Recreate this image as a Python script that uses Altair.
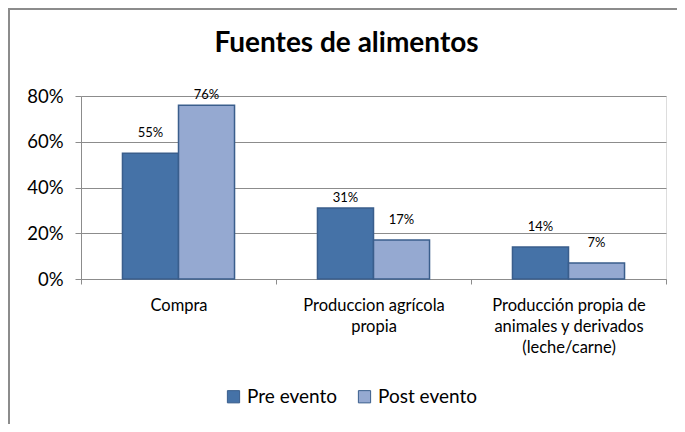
import altair as alt
import pandas as pd

categories = ["Compra", "Produccion agrícola propia",
              "Producción propia de animales y derivados (leche/carne)"]
category_lines = [["Compra"], ["Produccion agrícola", "propia"],
                  ["Producción propia de", "animales y derivados", "(leche/carne)"]]
series = ["Pre evento", "Post evento"]
pre_values = [0.55, 0.31, 0.14]
post_values = [0.76, 0.17, 0.07]
y_ticks = [0, 0.2, 0.4, 0.6, 0.8]

rows = []
for c, a, b in zip(categories, pre_values, post_values):
    rows.append({"categoria": c, "serie": series[0], "valor": a})
    rows.append({"categoria": c, "serie": series[1], "valor": b})
df = pd.DataFrame(rows)

FONT = "Lato"
PRE = "#4572A7"
POST = "#95A9D1"
EDGE = "#3A5E8C"
GREY = "#8C8C8C"

label_expr = " : ".join(
    f"datum.value == '{c}' ? {lines!r}" for c, lines in zip(categories, category_lines)
) + " : datum.value"

x = alt.X("categoria:N", sort=categories, title=None,
          scale=alt.Scale(paddingInner=0, paddingOuter=0),
          axis=alt.Axis(labelExpr=label_expr, labelAngle=0, labelFontSize=16.5,
                        labelLineHeight=21, labelBaseline="top", labelPadding=13,
                        tickBand="extent", tickSize=5, tickColor=GREY,
                        domainColor=GREY, labelColor="black", labelFont=FONT,
                        grid=False))
xo = alt.XOffset("serie:N", sort=series,
                 scale=alt.Scale(paddingOuter=0.74, paddingInner=0))
y = alt.Y("valor:Q", title=None,
          scale=alt.Scale(domain=[0, 0.8]),
          axis=alt.Axis(values=y_ticks, format=".0%", labelFontSize=18.5,
                        labelFont=FONT, labelColor="black", labelPadding=12,
                        tickSize=6, tickColor=GREY, domainColor=GREY,
                        gridColor=GREY, gridWidth=1))

bars = alt.Chart(df).mark_bar(stroke=EDGE, strokeWidth=1.5).encode(
    x=x, xOffset=xo, y=y,
    color=alt.Color("serie:N", sort=series,
                    scale=alt.Scale(domain=series, range=[PRE, POST]),
                    legend=alt.Legend(title=None, orient="none", direction="horizontal",
                                      legendX=143, legendY=291, symbolType="square",
                                      symbolSize=150, symbolStrokeColor=EDGE,
                                      symbolStrokeWidth=1, labelFontSize=19,
                                      labelFont=FONT, labelColor="black",
                                      columnPadding=17, labelOffset=4)),
)

tight = [(categories[0], series[1]), (categories[1], series[0])]
tight_expr = " || ".join(
    f"(datum.categoria == '{c}' && datum.serie == '{s}')" for c, s in tight)

labels_normal = alt.Chart(df).transform_filter(f"!({tight_expr})").mark_text(
    baseline="middle", dy=-20, fontSize=13, font=FONT, color="black"
).encode(x=x, xOffset=xo, y=y, text=alt.Text("valor:Q", format=".0%"))

labels_tight = alt.Chart(df).transform_filter(tight_expr).mark_text(
    baseline="middle", dy=-10, fontSize=13, font=FONT, color="black"
).encode(x=x, xOffset=xo, y=y, text=alt.Text("valor:Q", format=".0%"))

frame_df = pd.DataFrame({"k": [0]})
left_border = alt.Chart(frame_df).mark_rule(color=GREY, strokeWidth=2).encode(
    x=alt.value(-72), y=alt.value(-87), y2=alt.value(340))
top_border = alt.Chart(frame_df).mark_rule(color=GREY, strokeWidth=2).encode(
    x=alt.value(-73), x2=alt.value(596), y=alt.value(-87))

chart = alt.layer(bars, labels_normal, labels_tight, left_border, top_border).properties(
    width=585, height=183,
    title=alt.TitleParams("Fuentes de alimentos", fontSize=28, fontWeight="bold",
                          font=FONT, anchor="middle", frame="bounds", offset=-50,
                          dx=4, color="black"),
    autosize=alt.AutoSizeParams(type="none"),
    padding={"left": 73, "top": 88, "right": 11, "bottom": 145},
).configure_view(fill="#E9EDF5", stroke=GREY, strokeWidth=1).configure(
    background="white")

chart.save("out.html", embed_options={"renderer": "svg", "actions": False})
